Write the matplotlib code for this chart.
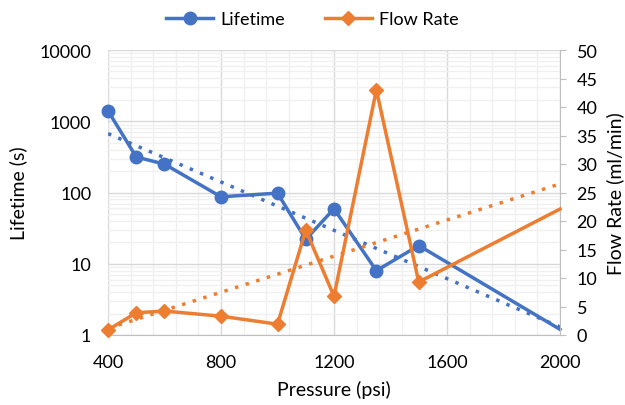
import numpy as np
import matplotlib
matplotlib.use("Agg")
import matplotlib.pyplot as plt
from matplotlib.ticker import FixedLocator, NullFormatter, FuncFormatter

plt.rcParams['font.family'] = ['Lato', 'DejaVu Sans']

pressure = [400, 500, 600, 800, 1000, 1100, 1200, 1350, 1500, 2000]
lifetime = [1400, 315, 250, 87, 98, 22, 59, 8, 18, 1.2]
flow_rate = [0.9, 3.9, 4.2, 3.3, 1.9, 18.4, 6.8, 43, 9.3, 22.1]

x_ticks = [400, 800, 1200, 1600, 2000]
left_ticks = [1, 10, 100, 1000, 10000]
right_ticks = list(range(0, 55, 5))

blue = '#4472C4'
orange = '#ED7D31'

fig = plt.figure(figsize=(6.25, 4.06), dpi=100)
ax = fig.add_axes([108/625, 1-336/406, (560-108)/625, (336-51)/406])
ax2 = ax.twinx()

ax.set_yscale('log')
ax.set_ylim(1, 10000)
ax.set_xlim(400, 2000)
ax2.set_ylim(0, 50)

# gridlines
ax.xaxis.set_major_locator(FixedLocator(x_ticks))
ax.xaxis.set_minor_locator(FixedLocator(np.arange(400, 2001, 80)))
ax.yaxis.set_major_locator(FixedLocator(left_ticks))
minor_y = [m * 10**d for d in range(0, 4) for m in range(2, 10)]
ax.yaxis.set_minor_locator(FixedLocator(minor_y))
ax.yaxis.set_minor_formatter(NullFormatter())
ax.yaxis.set_major_formatter(FuncFormatter(lambda v, p: f"{int(round(v))}"))
ax.grid(which='major', color='#d9d9d9', linewidth=1.0)
ax.grid(which='minor', color='#f0f0f0', linewidth=1.0)
ax.set_axisbelow(True)

for s in ['top', 'left', 'right']:
    ax.spines[s].set_visible(False)
ax.spines['bottom'].set_color('#bfbfbf')
for s in ['top', 'left', 'bottom']:
    ax2.spines[s].set_visible(False)
ax2.spines['right'].set_color('#bfbfbf')

ax.tick_params(axis='both', which='both', length=0, labelsize=13, colors='#000000')
ax.tick_params(axis='x', pad=14)
ax.tick_params(axis='y', pad=12)
ax2.yaxis.set_major_locator(FixedLocator(right_ticks))
ax2.tick_params(axis='y', length=4, color='#bfbfbf', labelsize=13, pad=8)

# trendlines
xs = np.array(pressure, dtype=float)
c1 = np.polyfit(xs, np.log(lifetime), 1)
xl = np.linspace(400, 2000, 50)
ax.plot(xl, np.exp(np.polyval(c1, xl)), color=blue, linestyle=(0, (1, 2.2)), linewidth=2.5, zorder=3)
c2 = np.polyfit(xs, flow_rate, 1)
ax2.plot(xl, np.polyval(c2, xl), color=orange, linestyle=(0, (1, 2.2)), linewidth=2.5, zorder=3)

marks = list(range(len(pressure) - 1))
l1, = ax.plot(pressure, lifetime, color=blue, marker='o', markersize=9, linewidth=2.5,
              markevery=marks, label='Lifetime', zorder=4, clip_on=False)
l2, = ax2.plot(pressure, flow_rate, color=orange, marker='D', markersize=7, linewidth=2.5,
               markevery=marks, label='Flow Rate', zorder=4, clip_on=False)

ax.set_xlabel('Pressure (psi)', fontsize=14, labelpad=7)
ax.set_ylabel('Lifetime (s)', fontsize=14, labelpad=9)
ax2.set_ylabel('Flow Rate (ml/min)', fontsize=14, labelpad=6)

fig.legend([l1, l2], ['Lifetime', 'Flow Rate'], loc='center', bbox_to_anchor=(0.5, 1-20/406),
           ncol=2, frameon=False, fontsize=13, handlelength=2.6, handletextpad=0.4,
           columnspacing=2.2)

fig.savefig('out.png', dpi=100)
